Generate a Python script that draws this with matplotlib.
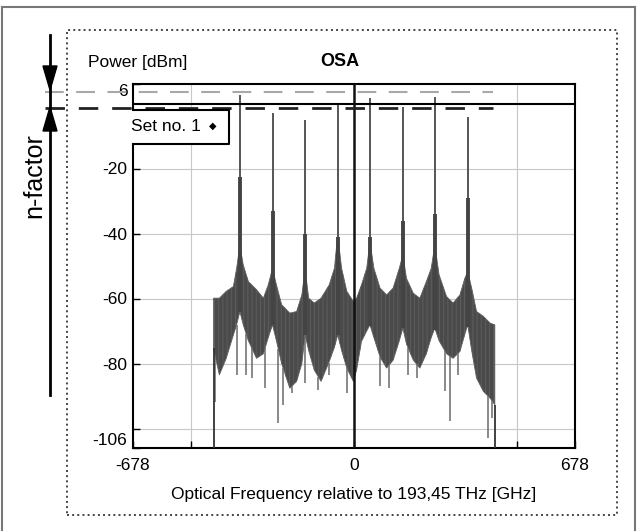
import numpy as np
import matplotlib.pyplot as plt
from matplotlib.patches import Rectangle, Polygon
from matplotlib.lines import Line2D

plt.rcParams['font.family'] = ['Liberation Sans', 'DejaVu Sans']
plt.rcParams['hatch.linewidth'] = 0.6

# channel peaks (GHz, dBm)
peak_freq = [-350, -250, -150, -50, 50, 150, 250, 350]
peak_top = [2.7, -3.0, -5.0, -0.4, 1.6, -1.1, 1.9, -4.0]
peak_shoulder = [-22.5, -33, -40, -41, -41, -36, -34, -29]

# noise/ASE envelope
env_freq = [-431, -413, -392, -370, -360, -350, -340, -324, -299, -278, -263, -250,
            -238, -222, -197, -176, -160, -150, -139, -122, -101, -76, -60, -50,
            -38, -22, -2, 8, 23, 39, 49, 61, 80, 100, 120, 139, 150, 161, 182, 202,
            222, 237, 248, 261, 284, 304, 325, 340, 349, 361, 376, 397, 418, 432]
env_upper = [-59.9, -59.9, -57.8, -56.3, -50.7, -43.5, -49.6, -54.8, -57.3, -59.9, -55.8, -50.7,
             -55.8, -61.9, -64.5, -64.0, -58.9, -51.0, -59.9, -61.4, -59.9, -55.8, -50.7, -40.4,
             -50.7, -57.8, -60.9, -59.9, -55.8, -50.7, -42.5, -50.7, -56.8, -58.9, -56.8, -50.7,
             -46.6, -53.8, -58.4, -59.9, -54.8, -50.7, -43.5, -52.7, -59.4, -61.4, -58.9, -53.8,
             -51.7, -56.8, -64.0, -65.5, -67.6, -68.1]
env_lower = [-75.3, -83.5, -78.4, -71.2, -68, -64, -68, -73, -78.4, -77, -72, -68.1,
             -73, -80, -87.6, -85.5, -80, -71.2, -76, -82, -85.5, -79.4, -75, -71.2,
             -76, -81.4, -85.5, -82, -73.2, -70, -68.1, -72, -78, -81.4, -79, -73,
             -69.1, -74, -79, -81.4, -77, -72, -69.1, -73, -77, -78.4, -76.3, -71,
             -68.1, -76, -84.5, -88.6, -90.7, -92.7]

# single deep dips below the envelope
spike_freq = [-426, -360, -331, -314, -273, -232, -217, -191, -150, -109, -78, -22,
              80, 108, 166, 192, 279, 294, 320, 412, 422]
spike_low = [-91.7, -83.5, -83.5, -84.5, -87.6, -98.4, -92.7, -89.1, -86, -88, -83.5, -89.1,
             -87, -87.6, -83.5, -84.5, -88.6, -97.8, -83.5, -102.9, -96.7]

ref_max = 3.5
ref_min = -1.5

xticks = [-678, -500, 0, 500, 678]
xticklabels = ['-678', '', '0', '', '678']
yticks = [-106, -100, -80, -60, -40, -20, 6]
yticklabels = ['-106', '', '-80', '-60', '-40', '-20', '6']

W, H = 638, 531
def fx(px): return px / W
def fy(py): return 1 - py / H

fig = plt.figure(figsize=(6.38, 5.31), dpi=100)
ax = fig.add_axes([fx(133), fy(448), 442 / W, 364 / H])

# outer frame and dotted frame
for xs, ys in [([2, 2], [7, 531]), ([2, 635], [7, 7]), ([635, 635], [7, 531])]:
    fig.add_artist(Line2D([fx(v) for v in xs], [fy(v) for v in ys], color='#777777', lw=1.5))
fig.add_artist(Rectangle((fx(67), fy(515)), fx(617) - fx(67), fy(30) - fy(515),
                         transform=fig.transFigure, fill=False, ls=':', ec='#444444', lw=1.4))

ax.set_xlim(-678, 678)
ax.set_ylim(-106, 6)

for y in [-100, -80, -60, -40, -20]:
    ax.axhline(y, color='#c8c8c8', lw=0.8, zorder=0)
for x in [-500, 500]:
    ax.axvline(x, color='#c8c8c8', lw=0.8, zorder=0)
ax.axhline(0, color='black', lw=1.5, zorder=5)

ax.fill_between(env_freq, env_lower, env_upper, facecolor='#4a4a4a', edgecolor='#606060',
                hatch='||||', lw=0.6, zorder=3)
ax.vlines(spike_freq, spike_low, np.interp(spike_freq, env_freq, env_lower),
          color='#6a6a6a', lw=1.1, zorder=3)
ax.vlines([env_freq[0], env_freq[-1]], -106, [env_lower[0], env_lower[-1]],
          color='#333333', lw=1.3, zorder=3)
ax.vlines(peak_freq, peak_shoulder, peak_top, color='#555555', lw=1.4, zorder=4)
ax.vlines(peak_freq, np.interp(peak_freq, env_freq, env_lower), peak_shoulder,
          color='#444444', lw=2.8, zorder=4)
ax.axvline(0, color='#111111', lw=1.8, zorder=5)

# reference levels (n-factor band)
ax.plot([-948, 426], [ref_max, ref_max], color='#a8a8a8', lw=1.5,
        ls=(0, (9, 6)), clip_on=False, zorder=5)
ax.plot([-948, 426], [ref_min, ref_min], color='#222222', lw=2,
        ls=(0, (7, 5)), clip_on=False, zorder=5)

for s in ax.spines.values():
    s.set_linewidth(1.5)

ax.set_xticks(xticks)
ax.set_xticklabels(xticklabels)
ax.set_yticks(yticks)
ax.set_yticklabels(yticklabels)
ax.tick_params(direction='in', length=5, width=1, labelsize=12.5)
ax.tick_params(axis='x', pad=7)
ax.tick_params(axis='y', pad=4)
for lab in ax.get_yticklabels():
    if lab.get_text() == '6':
        lab.set_va('top')
    elif lab.get_text() == '-106':
        lab.set_va('bottom')
ax.set_xlabel('Optical Frequency relative to 193,45 THz [GHz]', fontsize=12.5, labelpad=10)

# legend box
ax.add_patch(Rectangle((-0.012, 0.835), 0.229, 0.0936, transform=ax.transAxes,
                       fc='white', ec='none', clip_on=False, zorder=6))
ax.add_line(Line2D([0, 0.217, 0.217, 0], [0.9286, 0.9286, 0.835, 0.835],
                   transform=ax.transAxes, color='black', lw=1.5, clip_on=False, zorder=7))
ax.text(-0.005, 0.882, 'Set no. 1', transform=ax.transAxes, fontsize=12.5,
        va='center', ha='left', zorder=8)
ax.text(0.181, 0.884, '\u25c6', transform=ax.transAxes, fontsize=7,
        va='center', ha='center', zorder=8)

fig.text(fx(88), fy(62), 'Power [dBm]', fontsize=12.5, va='center', ha='left')
fig.text(fx(340), fy(62), 'OSA', fontsize=13, weight='bold', va='center', ha='center')

# n-factor arrow
fig.add_artist(Line2D([fx(50), fx(50)], [fy(35), fy(395)], color='black', lw=2))
fig.add_artist(Polygon([(fx(43), fy(66)), (fx(57), fy(66)), (fx(50), fy(90))],
                       closed=True, transform=fig.transFigure, color='black'))
fig.add_artist(Polygon([(fx(43), fy(131)), (fx(57), fy(131)), (fx(50), fy(107))],
                       closed=True, transform=fig.transFigure, color='black'))
fig.text(fx(34), fy(176), 'n-factor', rotation=90, fontsize=18, va='center', ha='center')

fig.savefig('out.png', dpi=100)
